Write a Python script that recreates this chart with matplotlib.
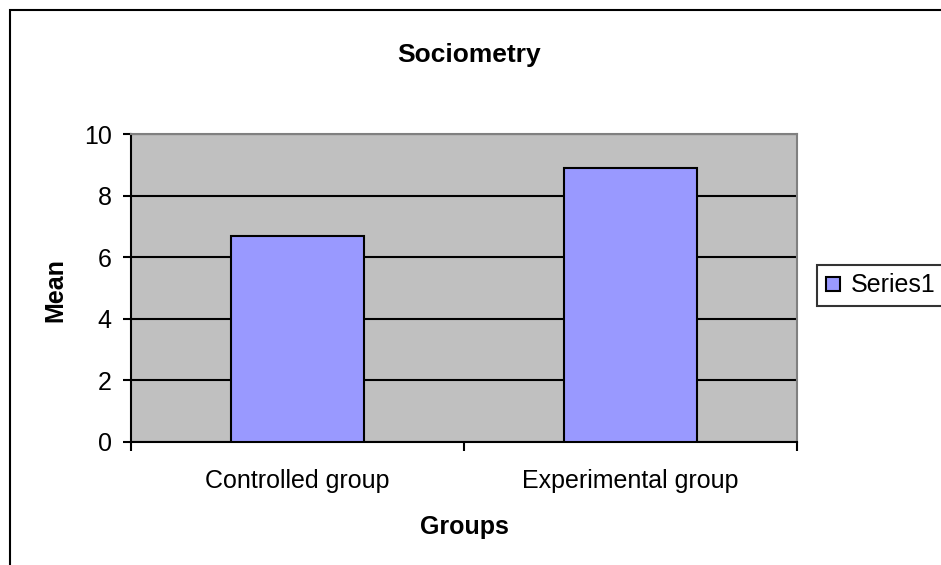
import matplotlib
matplotlib.use("Agg")
import matplotlib.pyplot as plt
from matplotlib.lines import Line2D
from matplotlib.patches import Rectangle

categories = ["Controlled group", "Experimental group"]
values = [6.7, 8.9]
series_name = "Series1"
yticks = [0, 2, 4, 6, 8, 10]

plt.rcParams['font.family'] = ['Liberation Sans', 'DejaVu Sans']

W, H = 941, 565
fig = plt.figure(figsize=(W / 100, H / 100), dpi=100)
fig.patch.set_facecolor('white')

L, R, T, B = 131, 797, 134, 441.7
ax = fig.add_axes([L / W, 1 - B / H, (R - L) / W, (B - T) / H])
ax.set_facecolor('#C0C0C0')

x = list(range(len(categories)))
ax.bar(x, values, width=0.4, color='#9999FF', edgecolor='black', linewidth=1.5, zorder=3)

ax.set_xlim(-0.5, len(categories) - 0.5)
ax.set_ylim(0, 10)
ax.set_yticks(yticks)
ax.set_yticklabels([str(v) for v in yticks])
ax.yaxis.grid(True, color='black', linewidth=1.5, zorder=1)
ax.set_axisbelow(True)

ax.set_xticks(x)
ax.set_xticklabels(categories)
ax.set_xticks([i - 0.5 for i in range(len(categories) + 1)], minor=True)
ax.tick_params(axis='x', which='major', length=0, pad=20, labelsize=18)
ax.tick_params(axis='x', which='minor', length=6.5, width=1.5, direction='out', color='black')
ax.tick_params(axis='y', length=6, width=1.5, direction='out', pad=8, labelsize=18)

for s in ['left', 'bottom']:
    ax.spines[s].set_color('black')
    ax.spines[s].set_linewidth(1.5)
for s in ['top', 'right']:
    ax.spines[s].set_color('#808080')
    ax.spines[s].set_linewidth(1.5)

fig.text(469.5 / W, 1 - 55 / H, "Sociometry", ha='center', va='center', fontsize=19, fontweight='bold')
fig.text(464 / W, 1 - 527 / H, "Groups", ha='center', va='center', fontsize=18, fontweight='bold')
fig.text(55 / W, 1 - 290 / H, "Mean", ha='center', va='center', fontsize=18, fontweight='bold', rotation=90)

handle = Line2D([], [], marker='s', markersize=10, markerfacecolor='#9999FF',
                markeredgecolor='black', markeredgewidth=1.5, linestyle='none')
leg = fig.legend([handle], [series_name], loc='center left',
                 bbox_to_anchor=(817 / W, 1 - 285.5 / H), fontsize=18,
                 frameon=True, fancybox=False, handlelength=0.6, handletextpad=0.4,
                 borderpad=0.35, borderaxespad=0)
leg.get_frame().set_edgecolor('black')
leg.get_frame().set_linewidth(1.5)

border = Rectangle((10 / W, -0.1), 1.2, 1 - 10 / H + 0.1, transform=fig.transFigure,
                   fill=False, edgecolor='black', linewidth=1.5)
fig.patches.append(border)

fig.savefig("out.png", dpi=100)
